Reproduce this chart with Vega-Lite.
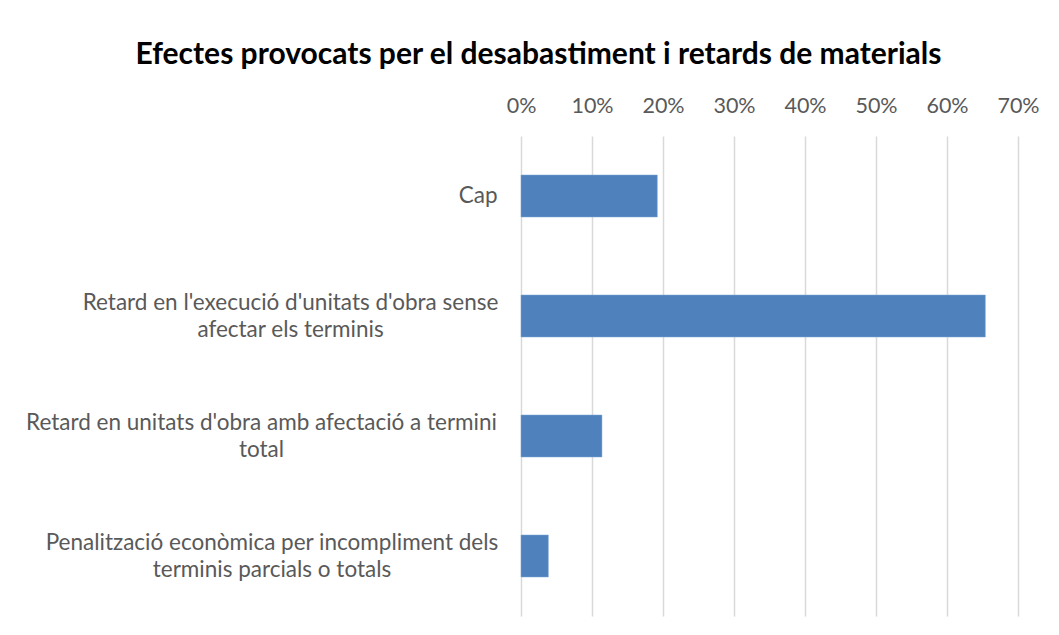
{
  "$schema": "https://vega.github.io/schema/vega-lite/v6.json",
  "width": 497,
  "height": 480,
  "autosize": "none",
  "padding": {"left": 521, "top": 136, "right": 41, "bottom": 19},
  "background": "white",
  "title": {
    "text": "Efectes provocats per el desabastiment i retards de materials",
    "font": "Lato",
    "fontSize": 30,
    "fontWeight": "bold",
    "color": "#000000",
    "anchor": "middle",
    "frame": "group",
    "dx": -231,
    "offset": 25
  },
  "data": {
    "values": [
      {"efecte": "Cap", "pct": 0.192},
      {"efecte": "Retard en l'execució d'unitats d'obra sense|afectar els terminis", "pct": 0.654},
      {"efecte": "Retard en unitats d'obra amb afectació a termini|total", "pct": 0.114},
      {"efecte": "Penalització econòmica per incompliment dels|terminis parcials o totals", "pct": 0.0385}
    ]
  },
  "mark": {"type": "bar", "color": "#4f81bd", "stroke": "#7ea6d6", "strokeWidth": 0.5},
  "encoding": {
    "y": {
      "field": "efecte",
      "type": "nominal",
      "sort": null,
      "scale": {"paddingInner": 0.65, "paddingOuter": 0.325},
      "axis": {
        "title": null,
        "ticks": false,
        "domain": false,
        "labelFont": "Lato",
        "labelFontSize": 22.5,
        "labelColor": "#595959",
        "labelLineHeight": 27,
        "labelLimit": 600,
        "labelExpr": "split(datum.label, '|')",
        "labelAlign": {"condition": {"test": "datum.value === 'Cap'", "value": "right"}, "value": "center"},
        "labelOffset": {"condition": {"test": "datum.value === 'Cap'", "value": 0}, "value": -13.5},
        "labelPadding": {
          "condition": [
            {"test": "datum.value === 'Cap'", "value": 24},
            {"test": "indexof(datum.value, 'execució') >= 0", "value": 231},
            {"test": "indexof(datum.value, 'amb afectació') >= 0", "value": 260}
          ],
          "value": 249.5
        }
      }
    },
    "x": {
      "field": "pct",
      "type": "quantitative",
      "scale": {"domain": [0, 0.7], "nice": false},
      "axis": {
        "orient": "top",
        "title": null,
        "format": ".0%",
        "values": [0, 0.1, 0.2, 0.3, 0.4, 0.5, 0.6, 0.7],
        "ticks": false,
        "tickSize": 0,
        "domain": false,
        "grid": true,
        "gridColor": "#d9d9d9",
        "gridWidth": 1.5,
        "labelFlush": false,
        "labelOverlap": false,
        "labelPadding": 19,
        "labelFont": "Lato",
        "labelFontSize": 21.5,
        "labelColor": "#595959"
      }
    }
  },
  "config": {"view": {"stroke": null}}
}
